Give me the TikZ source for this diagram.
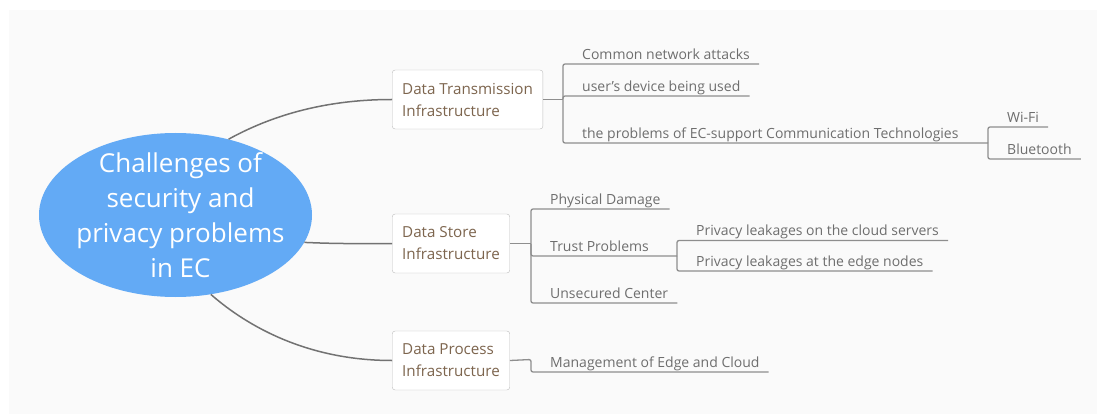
\documentclass[tikz,border=0pt]{standalone}
\usepackage{fontspec}
\setmainfont{Open Sans}
\usepackage{xcolor}
\usepackage{tikz}
\usetikzlibrary{positioning,shapes.geometric,calc}
\definecolor{hubblue}{HTML}{63AAF5}
\definecolor{panel}{HTML}{FAFAFA}
\definecolor{frame}{HTML}{BDBDBD}
\definecolor{topictext}{HTML}{7D654E}
\definecolor{leaftext}{HTML}{6E6E6E}
\definecolor{branch}{HTML}{8E8E8E}
\definecolor{stemgray}{HTML}{727272}
\tikzset{
  hub/.style={ellipse,fill=hubblue,minimum width=273pt,minimum height=164pt,inner sep=0pt},
  hubtxt/.style={text=white,align=center,font=\fontsize{26}{35}\selectfont},
  topic/.style={rectangle,draw=frame,fill=white,rounded corners=3pt,align=left,
    anchor=west,text=topictext,inner xsep=10pt,minimum height=59pt,
    font=\fontsize{15.2}{22}\selectfont},
  leaf/.style={anchor=south west,inner xsep=9pt,inner ysep=2.5pt,text height=10pt,
    text depth=2pt,text=leaftext,font=\fontsize{14}{16}\selectfont},
  br/.style={draw=branch,line width=1.3pt,rounded corners=2pt},
  stem/.style={draw=stemgray,line width=1.5pt},
}
\begin{document}
\begin{tikzpicture}[x=1pt,y=-1pt]
  \useasboundingbox (0,0) rectangle (1097,414);
  \fill[panel] (9,10) rectangle (1097,414);
  % centre topic
  \node[hub,label={[hubtxt,xshift=5pt]center:Challenges of\\security and\\privacy problems\\in EC}] (hub) at (175.5,215) {};
  % main topics
  \node[topic] (dti) at (392,99.5) {Data Transmission\\Infrastructure};
  \node[topic] (dsi) at (392,243.5) {Data Store\\Infrastructure};
  \node[topic] (dpi) at (392,360.5) {Data Process\\Infrastructure};
  \draw[stem] (hub.55) .. controls (267,118) and (320,99.5) .. (dti.west);
  \draw[stem] (hub.-12) .. controls (340,244) and (360,243.5) .. (dsi.west);
  \draw[stem] (hub.-66) .. controls (240,320) and (300,360.5) .. (dpi.west);
  % junctions
  \coordinate (dtiJ) at (563,99.5);
  \coordinate (dsiJ) at (531,243.5);
  \coordinate (dpiJ) at (531,359.5);
  \coordinate (techJ) at (988,143);
  \coordinate (trustJ) at (677,256);
  % data transmission
  \node[leaf] (atk) at (573,64) {Common network attacks};
  \node[leaf] (dev) at (573,96) {user's device being used};
  \node[leaf] (tech) at (573,143) {the problems of EC-support Communication Technologies};
  \node[leaf] (wifi) at (998,127) {Wi-Fi};
  \node[leaf] (bt) at (998,159) {Bluetooth};
  \draw[br] (dti.east) -- (dtiJ);
  \draw[br] (dtiJ) |- (atk.south east);
  \draw[br] (dtiJ) |- (dev.south east);
  \draw[br] (dtiJ) |- (techJ);
  \draw[br] (techJ) |- (wifi.south east);
  \draw[br] (techJ) |- (bt.south east);
  % data store
  \node[leaf] (phys) at (541,209) {Physical Damage};
  \node[leaf] (trust) at (541,256) {Trust Problems};
  \node[leaf] (unsec) at (541,303) {Unsecured Center};
  \node[leaf] (cloud) at (687,240.5) {Privacy leakages on the cloud servers};
  \node[leaf] (edge) at (687,271) {Privacy leakages at the edge nodes};
  \draw[br] (dsi.east) -- (dsiJ);
  \draw[br] (dsiJ) |- (phys.south east);
  \draw[br] (dsiJ) |- (trustJ);
  \draw[br] (dsiJ) |- (unsec.south east);
  \draw[br] (trustJ) |- (cloud.south east);
  \draw[br] (trustJ) |- (edge.south east);
  % data process
  \node[leaf] (mgmt) at (541,372) {Management of Edge and Cloud};
  \draw[br] (dpi.east) -- (dpiJ) |- (mgmt.south east);
\end{tikzpicture}
\end{document}
